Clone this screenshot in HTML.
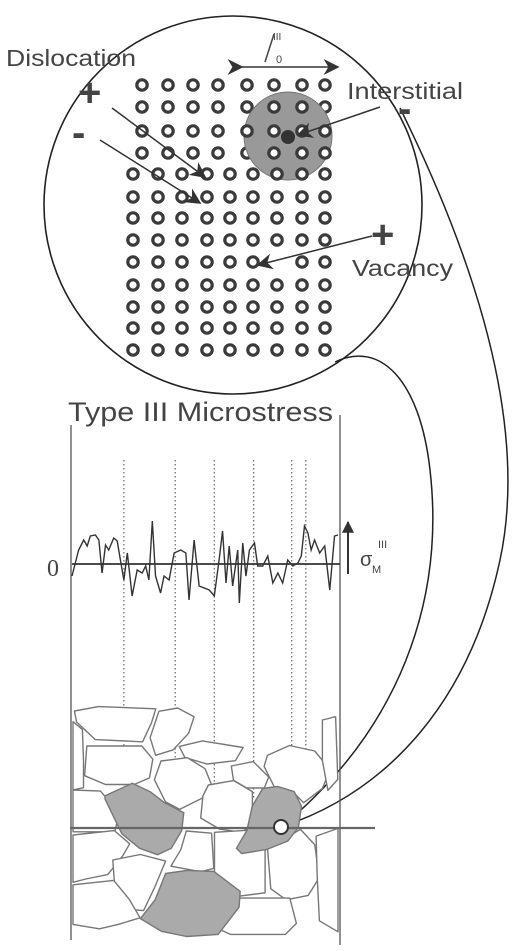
<!DOCTYPE html>
<html><head><meta charset="utf-8"><style>
html,body{margin:0;padding:0;background:#fff;width:519px;height:951px;overflow:hidden}
svg{display:block}
text{font-family:"Liberation Sans",sans-serif;fill:#444}
</style></head><body>
<svg id="fig" width="519" height="951" viewBox="0 0 519 951">
<defs>
<marker id="ah" viewBox="0 0 10 10" refX="9" refY="5" markerUnits="userSpaceOnUse" markerWidth="18" markerHeight="16" orient="auto"><path d="M0,0 L10,5 L0,10 L3,5 z" fill="#333"/></marker>
<marker id="ahs" viewBox="0 0 10 10" refX="9" refY="5" markerUnits="userSpaceOnUse" markerWidth="12" markerHeight="12" orient="auto"><path d="M0,0 L10,5 L0,10 z" fill="#333"/></marker>
</defs>
<g id="atoms"></g>
<circle cx="233" cy="205" r="189" fill="none" stroke="#222" stroke-width="1.6"/>
<circle cx="288" cy="136" r="44" fill="#999" stroke="#777"/>
<g id="atoms2"></g>
<circle cx="288" cy="137" r="7" fill="#333"/>
<path d="M400,108 C470,250 530,420 500,560 C470,700 390,790 284,826" fill="none" stroke="#222" stroke-width="1.5"/>
<path d="M335,362 C380,340 420,380 430,470 C445,600 400,730 280,828" fill="none" stroke="#222" stroke-width="1.5"/>
<text x="6" y="66" font-size="23" textLength="130" lengthAdjust="spacingAndGlyphs">Dislocation</text>
<text x="347" y="99" font-size="23" textLength="116" lengthAdjust="spacingAndGlyphs">Interstitial</text>
<text x="352" y="276" font-size="23" textLength="101" lengthAdjust="spacingAndGlyphs">Vacancy</text>
<text x="78" y="106" font-size="40" font-weight="bold" fill="#444">+</text>
<text x="72" y="146" font-size="40" font-weight="bold">-</text>
<text x="398" y="122" font-size="40" font-weight="bold">-</text>
<text x="371" y="248" font-size="40" font-weight="bold">+</text>
<line x1="112" y1="108" x2="205" y2="177" stroke="#333" stroke-width="1.5" marker-end="url(#ah)"/>
<line x1="100" y1="140" x2="200" y2="203" stroke="#333" stroke-width="1.5" marker-end="url(#ah)"/>
<line x1="380" y1="107" x2="298" y2="135" stroke="#333" stroke-width="1.5" marker-end="url(#ah)"/>
<line x1="372" y1="236" x2="258" y2="265" stroke="#333" stroke-width="1.5" marker-end="url(#ah)"/>
<line x1="242" y1="67" x2="338" y2="67" stroke="#333" stroke-width="1.5" marker-start="url(#ah)" marker-end="url(#ah)"/>
<line x1="265" y1="62" x2="274" y2="34" stroke="#444" stroke-width="1.5"/>
<text x="273" y="40" font-size="10">III</text>
<text x="276" y="63" font-size="11">0</text>

<text x="68" y="421" font-size="27" textLength="265" lengthAdjust="spacingAndGlyphs">Type III Microstress</text>
<line x1="71" y1="425" x2="71" y2="940" stroke="#555" stroke-width="1.3"/>
<line x1="340" y1="415" x2="340" y2="945" stroke="#555" stroke-width="1.3"/>
<g id="dots"></g>
<g id="grains"></g>
<line x1="70" y1="828" x2="375" y2="828" stroke="#666" stroke-width="2.2"/>
<circle cx="281" cy="827" r="7" fill="#fff" stroke="#333" stroke-width="2"/>
<line x1="72" y1="564" x2="340" y2="564" stroke="#333" stroke-width="1.8"/>
<text x="47" y="576" font-size="24" font-family="Liberation Serif" style="font-family:'Liberation Serif',serif">0</text>
<polyline id="stress" fill="none" stroke="#333" stroke-width="1.4"/>
<line x1="348" y1="574" x2="348" y2="522" stroke="#333" stroke-width="2" marker-end="url(#ahs)"/>
<text x="360" y="566" font-size="20">σ</text>
<text x="372" y="573" font-size="11">M</text>
<text x="378" y="548" font-size="11">III</text>
</svg>
<script>
const positions=[0,2.5,4.4,5.7,6.9,8.8,10.1,11.3,12.6,13.8,15.7,17.0,18.2,19.5,20.8,22.6,24.5,26.4,27.7,28.9,30.2,31.4,33.3,34.6,36.5,38.4,40.9,42.8,44.0,45.9,47.8,49.7,51.6,53.5,55.3,56.6,57.9,59.1,60.4,62.3,62.9,64.2,65.4,66.7,68.6,69.8,71.7,73.6,75.5,77.4,79.2,81.1,83.0,84.9,86.2,87.4,88.7,89.9,91.2,93.1,95.0,96.9,98.7,100];
const stressValues=[-12,14,24,18,28,29,24,-9,19,14,26,23,4,-16,11,-32,-6,-9,-2,-16,43,-12,-29,-12,-16,11,14,11,-36,24,-22,-24,-26,-32,4,33,-19,18,-22,14,-39,21,-12,14,21,-2,-2,8,-19,-9,-19,4,-2,1,8,38,31,14,24,11,18,-26,28,29];
const boundaryPositions=[19.5,38.8,53.5,68.3,82.6,87.9];
const xS=p=>72+p/100*266;
const yS=v=>564-v;
const NS="http://www.w3.org/2000/svg";
document.getElementById('stress').setAttribute('points',positions.map((p,i)=>xS(p)+','+yS(stressValues[i])).join(' '));
const dots=document.getElementById('dots');
boundaryPositions.forEach(p=>{const l=document.createElementNS(NS,'line');
l.setAttribute('x1',xS(p));l.setAttribute('x2',xS(p));l.setAttribute('y1',460);l.setAttribute('y2',800);
l.setAttribute('stroke','#666');l.setAttribute('stroke-dasharray','1.5,2.5');l.setAttribute('stroke-width','1.2');


dots.appendChild(l);});
const atoms=document.getElementById('atoms');
function atom(g,x,y){const c=document.createElementNS(NS,'circle');c.setAttribute('cx',x);c.setAttribute('cy',y);c.setAttribute('r',5.2);
c.setAttribute('fill','#fff');c.setAttribute('stroke','#3a3a3a');c.setAttribute('stroke-width','3.2');


g.appendChild(c);}
const topCols=[142,168,193,218,247,274,302,325],topRows=[85,107,131,153];
const lowCols=[133,158,182,207,230,253,277,302,325],lowRows=[174,197,218,240,262,285,307,328,350];
const inGray=(x,y)=>Math.hypot(x-288,y-136)<42;
const a2=document.getElementById('atoms2');
topRows.forEach(y=>topCols.forEach(x=>atom(inGray(x,y)?a2:atoms,x,y)));
lowRows.forEach(y=>lowCols.forEach(x=>{if(Math.abs(x-277)<3&&Math.abs(y-262)<3)return;atom(inGray(x,y)?a2:atoms,x,y)}));
const white=["78,712 100,708 152,710 148,723 140,740 97,738 80,722","160,713 177,710 192,718 187,733 173,748 157,753 152,737","90,748 140,748 150,760 147,777 133,783 107,783 88,775","182,747 203,742 240,748 233,760 207,763 187,757","163,763 187,760 203,770 210,787 200,797 180,807 167,800 157,780","233,767 253,763 267,777 263,787 247,787 235,780","270,757 290,748 313,753 327,770 320,787 303,800 293,790 277,787 267,767","210,787 233,783 250,793 250,823 240,830 220,827 203,817 205,797","323,723 335,720 337,777 328,787 323,760","72,725 82,732 83,760 83,785 72,787","72,792 100,793 117,813 113,830 72,830","73,837 113,833 127,845 120,857 107,873 87,877 72,880","187,833 210,835 212,867 200,870 173,865 182,850","217,835 250,833 263,847 263,890 240,893 217,873","270,850 300,833 313,847 317,877 307,893 287,897 273,887","317,840 337,833 337,927 320,917 318,877","115,862 140,857 163,863 153,887 143,908 130,907 117,890","72,887 113,883 127,900 137,917 117,923 100,927 73,923","240,900 287,900 293,923 283,933 233,933 220,927"];
const gray=["107,797 133,785 150,793 163,803 182,813 180,830 170,847 157,853 140,847 123,833 107,800","167,875 187,872 213,873 238,892 237,907 227,920 217,933 187,935 163,930 143,918 157,900","263,790 277,788 293,793 300,807 297,827 287,840 267,848 243,852 238,847 248,830 253,807"];
function grow(p,k){const pts=p.split(' ').map(s=>s.split(',').map(Number));const cx=pts.reduce((a,b)=>a+b[0],0)/pts.length,cy=pts.reduce((a,b)=>a+b[1],0)/pts.length;
return pts.map(([x,y])=>Math.max(73,Math.min(338,cx+(x-cx)*k)).toFixed(1)+','+(cy+(y-cy)*k).toFixed(1)).join(' ');}
const gg=document.getElementById('grains');
white.forEach(p=>{const e=document.createElementNS(NS,'polygon');e.setAttribute('points',grow(p,1.1));e.setAttribute('fill','#fff');e.setAttribute('stroke','#777');e.setAttribute('stroke-width','1.4');e.setAttribute('stroke-linejoin','round');


gg.appendChild(e);});
gray.forEach(p=>{const e=document.createElementNS(NS,'polygon');e.setAttribute('points',grow(p,1.05));e.setAttribute('fill','#aaa');e.setAttribute('stroke','#777');e.setAttribute('stroke-width','1.4');e.setAttribute('stroke-linejoin','round');


gg.appendChild(e);});
</script>
</body></html>
